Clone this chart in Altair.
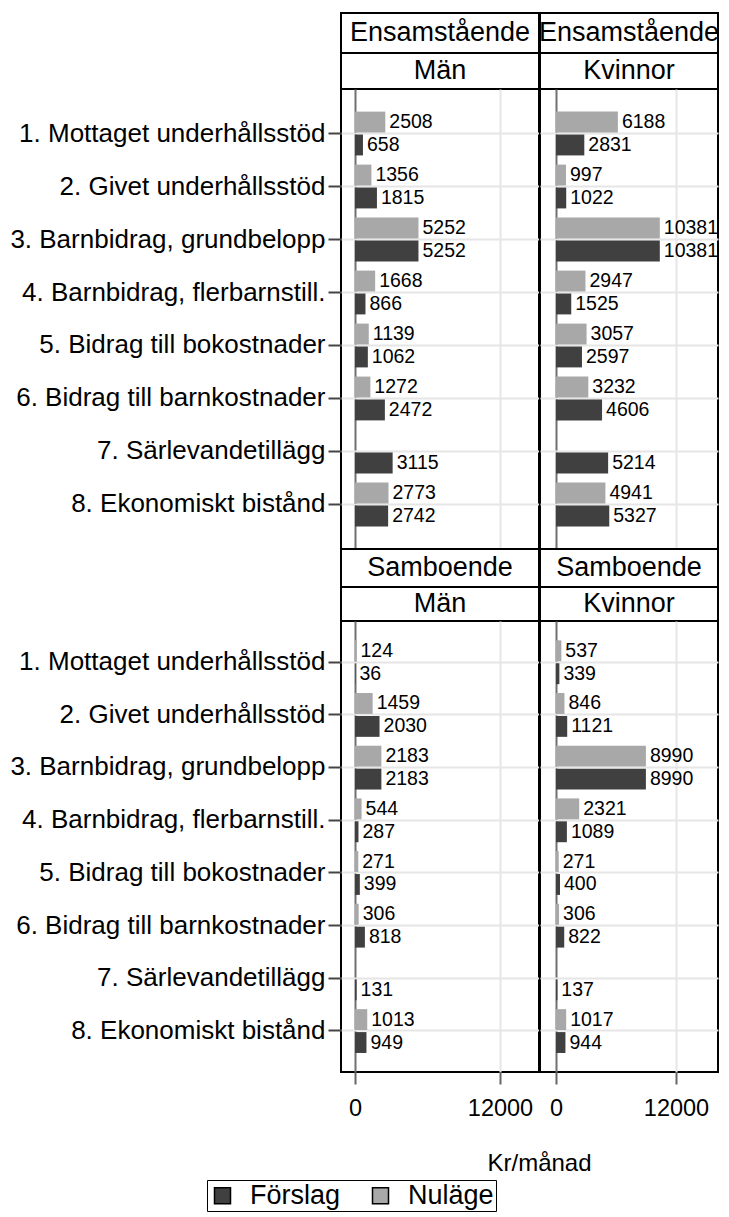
import altair as alt
import pandas as pd

FONT = "Liberation Sans"

categories = [
    "1. Mottaget underhållsstöd",
    "2. Givet underhållsstöd",
    "3. Barnbidrag, grundbelopp",
    "4. Barnbidrag, flerbarnstill.",
    "5. Bidrag till bokostnader",
    "6. Bidrag till barnkostnader",
    "7. Särlevandetillägg",
    "8. Ekonomiskt bistånd",
]
households = ["Ensamstående", "Samboende"]
sexes = ["Män", "Kvinnor"]
measures = ["Förslag", "Nuläge"]
measure_colors = ["#404040", "#a8a8a8"]
x_ticks = [0, 12000]

ens_man_nulage = [2508, 1356, 5252, 1668, 1139, 1272, None, 2773]
ens_man_forslag = [658, 1815, 5252, 866, 1062, 2472, 3115, 2742]
ens_kv_nulage = [6188, 997, 10381, 2947, 3057, 3232, None, 4941]
ens_kv_forslag = [2831, 1022, 10381, 1525, 2597, 4606, 5214, 5327]
sam_man_nulage = [124, 1459, 2183, 544, 271, 306, None, 1013]
sam_man_forslag = [36, 2030, 2183, 287, 399, 818, 131, 949]
sam_kv_nulage = [537, 846, 8990, 2321, 271, 306, None, 1017]
sam_kv_forslag = [339, 1121, 8990, 1089, 400, 822, 137, 944]

WL, WR = 198, 178
DOM_L = [-1159, 15228]
DOM_R = [-1600, 16200]


def panel_df(nul, fors):
    rows = []
    for c, n, f in zip(categories, nul, fors):
        if n is not None:
            rows.append({"kategori": c, "serie": "Nuläge", "kr": n})
        rows.append({"kategori": c, "serie": "Förslag", "kr": f})
    return pd.DataFrame(rows)


legend_def = alt.Legend(
    title=None, orient="none", legendX=-134, legendY=1167,
    direction="horizontal", columns=2, symbolType="square", symbolSize=256,
    symbolStrokeColor="black", symbolStrokeWidth=1.5, symbolOpacity=1,
    labelFontSize=27, labelFont=FONT, labelColor="black",
    strokeColor="black", padding=2, columnPadding=26, labelOffset=14,
)


def plot(df, domain, width, height, pad_outer, left, bottom):
    y_axis = alt.Axis(
        title=None, labels=left, ticks=left, domain=False, grid=True,
        gridColor="#e6e6e6", gridWidth=2, labelFontSize=26, labelFont=FONT,
        labelLimit=600, labelPadding=3, tickSize=13, tickWidth=2,
        tickColor="#444444", labelColor="black",
    )
    x_axis = alt.Axis(
        values=x_ticks, labels=bottom, ticks=bottom, domain=False, grid=True,
        gridColor={"condition": {"test": "datum.value === 0", "value": "#707070"}, "value": "#e6e6e6"},
        gridWidth=2, labelFontSize=23.5, labelFont=FONT, labelColor="black",
        labelPadding=12, tickSize=12, tickWidth=2, tickColor="#666666",
        labelFlush=False, labelOverlap=False, format="d",
        title="Kr/månad" if (bottom and left) else None,
        titleFontSize=24, titleFont=FONT, titleFontWeight="normal", titleColor="black",
        titleX=width, titleY=98, titleAlign="center", titleBaseline="alphabetic",
    )
    base = alt.Chart(df).encode(
        y=alt.Y("kategori:N", sort=categories,
                scale=alt.Scale(paddingInner=0, paddingOuter=pad_outer), axis=y_axis),
        yOffset=alt.YOffset("serie:N", sort=["Nuläge", "Förslag"],
                            scale=alt.Scale(paddingInner=0.09, paddingOuter=0.2)),
        x=alt.X("kr:Q", scale=alt.Scale(domain=domain, nice=False, zero=False), axis=x_axis),
    )
    bars = base.mark_bar().encode(
        color=alt.Color("serie:N", scale=alt.Scale(domain=measures, range=measure_colors),
                        legend=legend_def)
    )
    labels = base.mark_text(align="left", baseline="middle", dx=4, fontSize=19.5,
                            font=FONT, color="black").encode(text=alt.Text("kr:Q", format="d"))
    return alt.layer(bars, labels).properties(width=width, height=height)


def header(text, width, height):
    return alt.Chart(pd.DataFrame({"t": [text]})).mark_text(
        fontSize=27, font=FONT, color="black", baseline="middle", align="center"
    ).encode(text="t:N", x=alt.value(width / 2), y=alt.value(height / 2)).properties(
        width=width, height=height)


pA = plot(panel_df(ens_man_nulage, ens_man_forslag), DOM_L, WL, 460, 0.34, True, False)
pB = plot(panel_df(ens_kv_nulage, ens_kv_forslag), DOM_R, WR, 460, 0.34, False, False)
pC = plot(panel_df(sam_man_nulage, sam_man_forslag), DOM_L, WL, 451, 0.28, True, True)
pD = plot(panel_df(sam_kv_nulage, sam_kv_forslag), DOM_R, WR, 451, 0.28, False, True)

cells = [
    header(households[0], WL, 40), header(households[0], WR, 40),
    header(sexes[0], WL, 36), header(sexes[1], WR, 36),
    pA, pB,
    header(households[1], WL, 38), header(households[1], WR, 38),
    header(sexes[0], WL, 34), header(sexes[1], WR, 34),
    pC, pD,
]

chart = alt.concat(*cells, columns=2, spacing={"row": 0, "column": 1}, bounds="flush").configure(
    font=FONT
).configure_view(
    stroke="black", strokeWidth=2
).properties(
    padding={"left": 0, "top": 4, "right": 0, "bottom": 0}
)

chart.save("out.html", embed_options={"renderer": "svg", "actions": False})
